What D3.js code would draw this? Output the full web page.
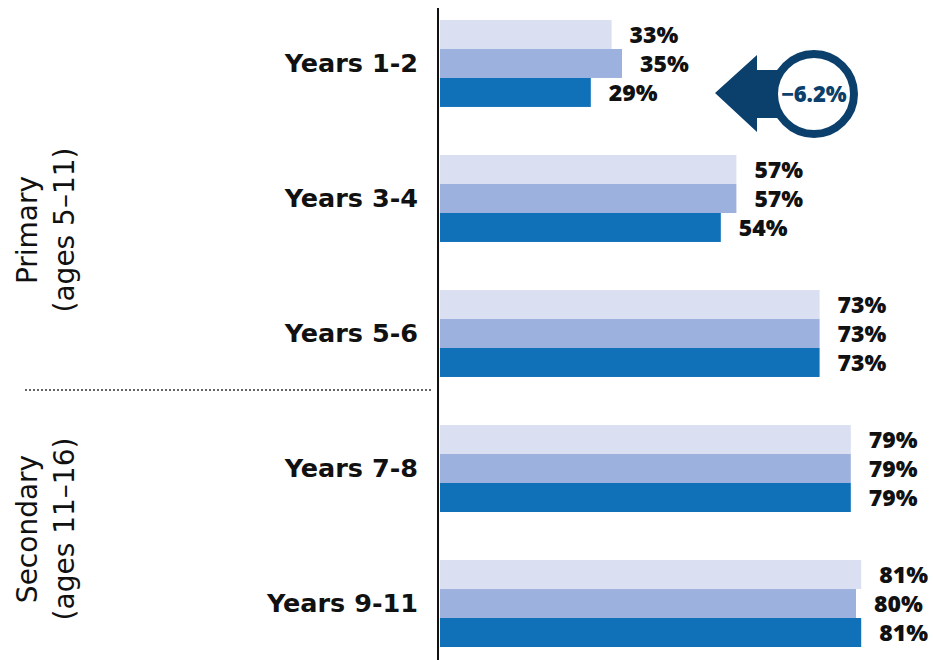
<!DOCTYPE html>
<html>
<head>
<meta charset='utf-8' />
<title>Years bars</title>
<script src="https://d3js.org/d3.v7.min.js"></script>
<style>
body { margin: 0; padding: 0; background: #fff; }
text { font-family: 'DejaVu Sans', sans-serif; font-weight: 700; }
text.val, text.badge { font-family: 'Open Sans', sans-serif; font-weight: 800; }
</style>
</head>
<body>
<div id='chart'></div>
<script>

// data
var categories = ["Years 1-2", "Years 3-4", "Years 5-6", "Years 7-8", "Years 9-11"];
var seriesNames = ["a", "b", "c"];
var valuesA = [33, 57, 73, 79, 81];
var valuesB = [35, 57, 73, 79, 80];
var valuesC = [29, 54, 73, 79, 81];
var stageLines = [["Primary", "(ages 5\u201311)"], ["Secondary", "(ages 11\u201316)"]];
var changeLabel = "\u22126.2%";

var colors = { a: "#dae0f2", b: "#9db1de", c: "#1071b8" };
var navy = "#0b3f6c";

var width = 933, height = 660;

var svg = d3.select("#chart")
  .append("svg")
    .attr("width", width)
    .attr("height", height);

var rows = categories.map(function(c, i) {
  return { cat: c, a: valuesA[i], b: valuesB[i], c: valuesC[i] };
});

var x = d3.scaleLinear()
  .domain([0, 100])
  .range([440, 960]);

var y = d3.scaleBand()
  .domain(categories)
  .range([20, 647])
  .paddingInner(0.356)
  .paddingOuter(0);

var ySub = d3.scaleBand()
  .domain(seriesNames)
  .range([0, y.bandwidth()]);

var groups = svg.selectAll("g.grp")
  .data(rows)
  .enter()
  .append("g")
    .attr("class", "grp")
    .attr("transform", function(d) { return "translate(0," + y(d.cat) + ")"; });

groups.selectAll("rect")
  .data(function(d) { return seriesNames.map(function(k) { return { key: k, v: d[k] }; }); })
  .enter()
  .append("rect")
    .attr("x", x(0))
    .attr("y", function(d) { return ySub(d.key); })
    .attr("width", function(d) { return x(d.v) - x(0); })
    .attr("height", ySub.bandwidth())
    .style("fill", function(d) { return colors[d.key]; });

groups.selectAll("text.val")
  .data(function(d) { return seriesNames.map(function(k) { return { key: k, v: d[k] }; }); })
  .enter()
  .append("text")
    .attr("class", "val")
    .attr("x", function(d) { return x(d.v) + 18; })
    .attr("y", function(d) { return ySub(d.key) + ySub.bandwidth() / 2; })
    .attr("dy", "0.36em")
    .style("font-size", "23px")
    .style("fill", "#111")
    .text(function(d) { return d.v + "%"; });

// category labels
svg.selectAll("text.cat")
  .data(categories)
  .enter()
  .append("text")
    .attr("class", "cat")
    .attr("x", 418)
    .attr("y", function(d) { return y(d) + y.bandwidth() / 2 - 1; })
    .attr("dy", "0.36em")
    .attr("text-anchor", "end")
    .style("font-size", "25.5px")
    .style("fill", "#111")
    .text(function(d) { return d; });

// axis line
svg.append("line")
  .attr("x1", x(0) - 2).attr("x2", x(0) - 2)
  .attr("y1", 8).attr("y2", height)
  .style("stroke", "#111")
  .style("stroke-width", 2);

// divider between primary and secondary
var divY = 390;
svg.append("line")
  .attr("x1", 25).attr("x2", 432)
  .attr("y1", divY).attr("y2", divY)
  .style("stroke", "#333")
  .style("stroke-width", 1.5)
  .style("stroke-dasharray", "2,2");

// stage labels, rotated
var stageCenters = [230, 529];
stageLines.forEach(function(lines, i) {
  var t = svg.append("text")
    .attr("transform", "translate(37," + stageCenters[i] + ") rotate(-90)")
    .attr("text-anchor", "middle")
    .style("font-size", "28px")
    .style("font-weight", 400)
    .style("fill", "#111");
  t.selectAll("tspan")
    .data(lines)
    .enter()
    .append("tspan")
      .attr("x", 0)
      .attr("y", function(d, j) { return j * 37; })
      .text(function(d) { return d; });
});

// change badge
var bx = 814, by = 94;
var badge = svg.append("g");
badge.append("path")
  .attr("d", "M715,93 L757,55 L757,70 L790,70 L790,118 L757,118 L757,132 Z")
  .style("fill", navy);
badge.append("circle")
  .attr("cx", bx).attr("cy", by)
  .attr("r", 40)
  .style("fill", "#fff")
  .style("stroke", navy)
  .style("stroke-width", 8);
badge.append("text")
  .attr("class", "badge")
  .attr("x", bx).attr("y", by)
  .attr("dy", "0.36em")
  .attr("text-anchor", "middle")
  .style("font-size", "22px")
  .style("fill", navy)
  .text(changeLabel);

</script>
</body>
</html>
